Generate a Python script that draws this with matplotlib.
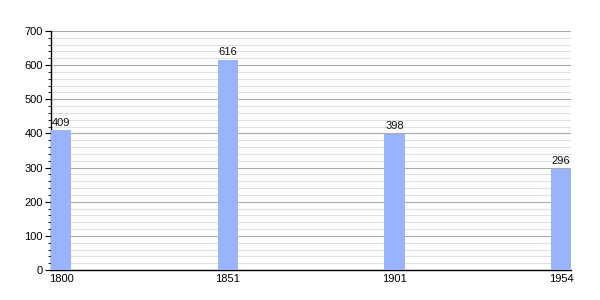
import matplotlib
matplotlib.use("Agg")
import matplotlib.pyplot as plt
import numpy as np

years = ["1800", "1851", "1901", "1954"]
population = [409, 616, 398, 296]

plt.rcParams['font.family'] = ['Liberation Sans', 'DejaVu Sans']

fig = plt.figure(figsize=(6, 3), dpi=100)
ax = fig.add_axes([0.085, 0.1, 0.867, 0.797])

w = 0.123
x = np.arange(len(years))
bars = ax.bar(x, population, width=w, align='edge', color='#99b3ff', zorder=3)
for xi, v in zip(x, population):
    ax.text(xi + w / 2, v + 8, str(v), ha='center', va='bottom', fontsize=8, color='#111111')

ax.set_xlim(0, len(years) - 1 + w)
ax.set_ylim(0, 700)
ax.set_xticks(x + w / 2)
ax.set_xticklabels(years, fontsize=8)
ax.tick_params(axis='x', length=0, pad=3)
ax.set_yticks(np.arange(0, 701, 100))
ax.set_yticks(np.arange(0, 701, 20), minor=True)
ax.tick_params(axis='y', which='major', length=4, labelsize=8, pad=2)
ax.tick_params(axis='y', which='minor', length=2)
ax.grid(axis='y', which='major', color='#aaaaaa', linewidth=0.8, zorder=0)
ax.grid(axis='y', which='minor', color='#e0e0e0', linewidth=0.8, zorder=0)
for s in ['top', 'right']:
    ax.spines[s].set_visible(False)
ax.spines['left'].set_linewidth(1)
ax.spines['bottom'].set_linewidth(1)

fig.savefig("out.png", dpi=100)
